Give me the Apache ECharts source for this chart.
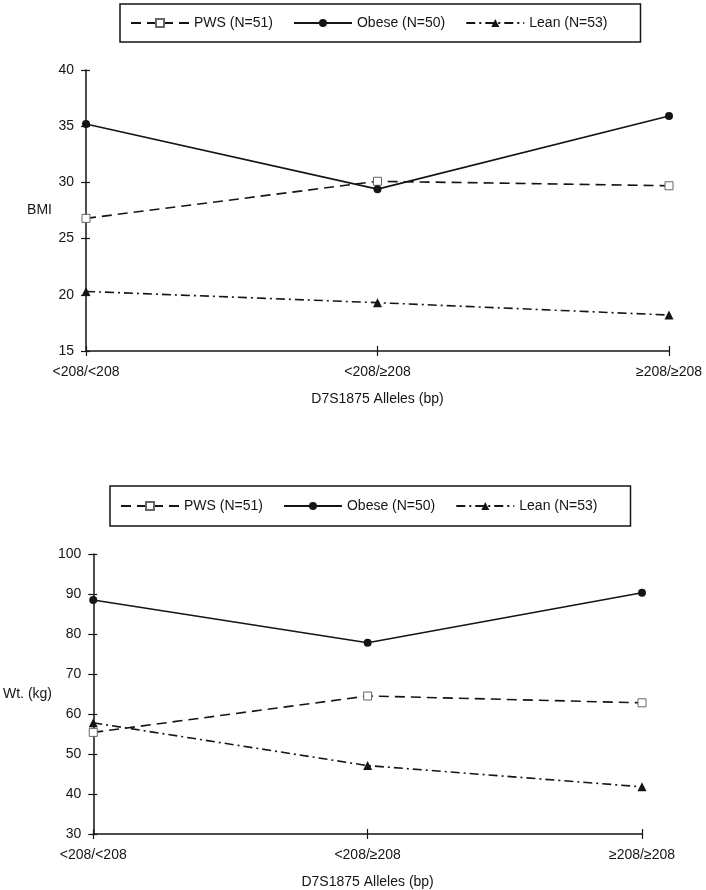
<!DOCTYPE html>
<html>
<head>
<meta charset="utf-8">
<script src="https://cdn.jsdelivr.net/npm/echarts@6/dist/echarts.min.js"></script>
<style>
html,body{margin:0;padding:0;background:#fff;}
#c{width:706px;height:890px;}
</style>
</head>
<body>
<div id="c"></div>
<script>
const categories = ['<208/<208', '<208/\u2265208', '\u2265208/\u2265208'];
const seriesNames = ['PWS (N=51)', 'Obese (N=50)', 'Lean (N=53)'];
const bmiPWS = [26.8, 30.1, 29.7];
const bmiObese = [35.2, 29.4, 35.9];
const bmiLean = [20.3, 19.3, 18.2];
const wtPWS = [55.4, 64.5, 62.8];
const wtObese = [88.5, 77.8, 90.3];
const wtLean = [57.8, 47.1, 41.8];
const xTitle = 'D7S1875 Alleles (bp)';
const bmiTitle = 'BMI';
const wtTitle = 'Wt. (kg)';

const ink = '#151515';
const font = 'Liberation Sans, Arial, sans-serif';

const grids = [
  {left: 86, top: 70, width: 583, height: 281},
  {left: 89, top: 554, width: 553, height: 281}
];

function xAxes(gi) {
  return [
    {type: 'category', gridIndex: gi, data: categories, boundaryGap: false,
     axisLine: {lineStyle: {color: ink, width: 1.5}},
     axisTick: {show: true, length: 5, lineStyle: {color: ink, width: 1.2}},
     axisLabel: {color: ink, fontSize: 14, fontFamily: font, margin: 14},
     splitLine: {show: false},
     name: xTitle, nameLocation: 'middle', nameGap: 41,
     nameTextStyle: {color: ink, fontSize: 14, fontFamily: font}},
    {type: 'category', gridIndex: gi, data: categories, boundaryGap: false, position: 'bottom',
     axisLine: {show: false},
     axisTick: {show: true, inside: true, length: 5, lineStyle: {color: ink, width: 1.2}},
     axisLabel: {show: false}, splitLine: {show: false}}
  ];
}
function yAxes(gi, min, max, interval, name, gap) {
  return [
    {type: 'value', gridIndex: gi, min: min, max: max, interval: interval,
     axisLine: {show: true, lineStyle: {color: ink, width: 1.5}},
     axisTick: {show: true, length: 5, lineStyle: {color: ink, width: 1.2}},
     axisLabel: {color: ink, fontSize: 14, fontFamily: font, margin: 12},
     splitLine: {show: false},
     name: name, nameLocation: 'middle', nameRotate: 0, nameGap: gap,
     nameTextStyle: {color: ink, fontSize: 14, fontFamily: font}},
    {type: 'value', gridIndex: gi, min: min, max: max, interval: interval, position: 'left',
     axisLine: {show: false},
     axisTick: {show: true, inside: true, length: 4, lineStyle: {color: ink, width: 1.2}},
     axisLabel: {show: false}, splitLine: {show: false}}
  ];
}

function mkSeries(gi, pws, obese, lean) {
  return [
    {name: seriesNames[0], type: 'line', xAxisIndex: gi * 2, yAxisIndex: gi * 2, data: pws,
     symbol: 'rect', symbolSize: 8, showSymbol: true,
     lineStyle: {color: ink, width: 1.6, type: [10, 6]},
     itemStyle: {color: '#fff', borderColor: '#666', borderWidth: 1}},
    {name: seriesNames[1], type: 'line', xAxisIndex: gi * 2, yAxisIndex: gi * 2, data: obese,
     symbol: 'circle', symbolSize: 8,
     lineStyle: {color: ink, width: 1.6, type: 'solid'},
     itemStyle: {color: ink, borderColor: ink, borderWidth: 0}},
    {name: seriesNames[2], type: 'line', xAxisIndex: gi * 2, yAxisIndex: gi * 2, data: lean,
     symbol: 'triangle', symbolSize: 9,
     lineStyle: {color: ink, width: 1.6, type: [9, 4, 2, 4]},
     itemStyle: {color: ink, borderColor: ink, borderWidth: 0}}
  ];
}

function mkLegend(left, top, vpad) {
  return {
    left: left, top: top, orient: 'horizontal',
    data: seriesNames,
    itemWidth: 58, itemHeight: 10, itemGap: 20,
    padding: [vpad, 33, vpad, 10],
    borderColor: ink, borderWidth: 1.5,
    textStyle: {color: ink, fontSize: 14, fontFamily: font},
    selectedMode: false
  };
}

const chart = echarts.init(document.getElementById('c'), null, {renderer: 'canvas'});
chart.setOption({
  animation: false,
  backgroundColor: '#fff',
  legend: [mkLegend(120, 4, 12), mkLegend(110, 486, 13)],
  grid: grids,
  xAxis: xAxes(0).concat(xAxes(1)),
  yAxis: yAxes(0, 15, 40, 5, bmiTitle, 34).concat(yAxes(1, 30, 100, 10, wtTitle, 37)),
  series: mkSeries(0, bmiPWS, bmiObese, bmiLean).concat(mkSeries(1, wtPWS, wtObese, wtLean))
});
</script>
</body>
</html>
